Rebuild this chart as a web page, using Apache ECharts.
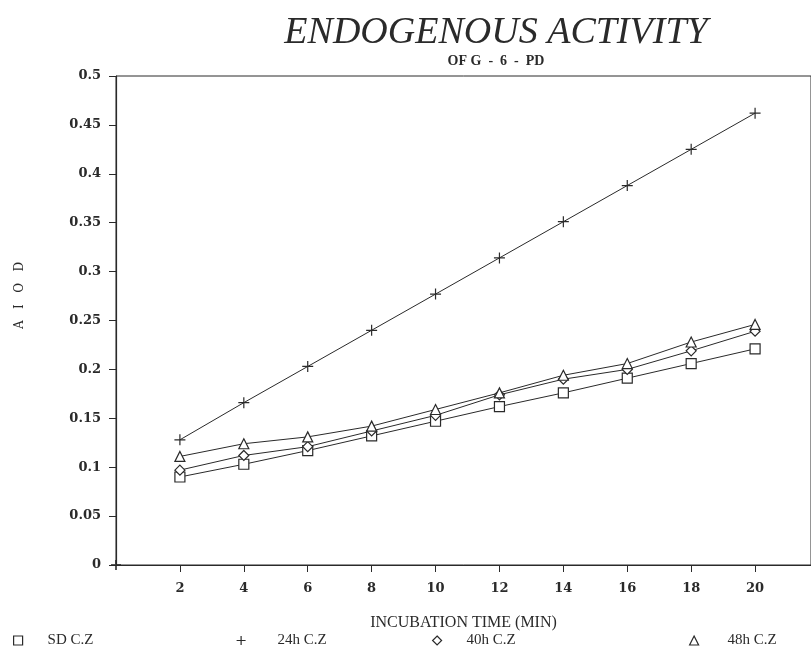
<!DOCTYPE html>
<html>
<head>
<meta charset="utf-8">
<script src="https://cdn.jsdelivr.net/npm/echarts@6/dist/echarts.min.js"></script>
<style>
    html, body { margin: 0; padding: 0; background: #fff; }
    #chart { width: 811px; height: 648px; }
</style>
</head>
<body>
<div id="chart"></div>
<script>
// incubation time (min)
const times = [2, 4, 6, 8, 10, 12, 14, 16, 18, 20];
// AIOD readings
const sdCZ  = [0.090, 0.103, 0.117, 0.132, 0.147, 0.162, 0.176, 0.191, 0.206, 0.221];
const h24CZ = [0.128, 0.166, 0.203, 0.240, 0.277, 0.314, 0.351, 0.388, 0.425, 0.462];
const h40CZ = [0.097, 0.112, 0.121, 0.137, 0.153, 0.174, 0.190, 0.200, 0.219, 0.239];
const h48CZ = [0.111, 0.124, 0.131, 0.142, 0.159, 0.176, 0.194, 0.206, 0.228, 0.246];
const seriesNames = ['SD C.Z', '24h C.Z', '40h C.Z', '48h C.Z'];

const ink = '#2a2a2a';
const plusPath = 'path://M0,5L10,5L5,5L5,0L5,10L5,5Z';

function pairs(vals) {
    return times.map(function (t, i) { return [t, vals[i]]; });
}

let myChart = echarts.init(document.getElementById('chart'));

function lineSeries(name, vals, symbol, size) {
    return {
        name: name,
        type: 'line',
        data: pairs(vals),
        symbol: symbol,
        symbolSize: size,
        showAllSymbol: true,
        lineStyle: { color: ink, width: 1 },
        itemStyle: { color: '#fff', borderColor: ink, borderWidth: 1.2 },
        emphasis: { disabled: true },
        z: 3
    };
}

// 图例 — 四个独立位置
function legendAt(left, name, icon, gap) {
    return {
        left: left,
        top: 628,
        data: [{ name: name, icon: icon }],
        itemWidth: 9,
        itemHeight: 9,
        itemGap: 0,
        selectedMode: false,
        itemStyle: { color: '#fff', borderColor: ink, borderWidth: 1.2 },
        textStyle: {
            color: ink,
            fontFamily: 'Liberation Serif',
            fontSize: 15,
            padding: [0, 0, 0, gap]
        }
    };
}

let option = {
    animation: false,
    backgroundColor: '#fff',
    title: [{
        text: 'ENDOGENOUS ACTIVITY',
        left: 491,
        top: 9,
        textAlign: 'center',
        textStyle: {
            fontFamily: 'Liberation Serif',
            fontStyle: 'italic',
            fontWeight: 'normal',
            fontSize: 38,
            color: ink
        }
    }, {
        text: 'OF G  -  6  -  PD',
        left: 491,
        top: 49,
        textAlign: 'center',
        textStyle: {
            fontFamily: 'Liberation Serif',
            fontWeight: 'bold',
            fontSize: 14,
            color: ink
        }
    }],
    legend: [
        legendAt(8, seriesNames[0], 'rect', 20),
        legendAt(231, seriesNames[1], plusPath, 27),
        legendAt(427, seriesNames[2], 'diamond', 20),
        legendAt(684, seriesNames[3], 'triangle', 24)
    ],
    grid: {
        left: 116,
        top: 76,
        right: 0,
        bottom: 83,
        show: true,
        borderColor: ink,
        borderWidth: 1
    },
    xAxis: {
        type: 'value',
        min: 0,
        max: 21.75,
        interval: 2,
        name: 'INCUBATION TIME (MIN)',
        nameLocation: 'middle',
        nameGap: 50,
        nameTextStyle: {
            fontFamily: 'Liberation Serif',
            fontSize: 16,
            color: ink
        },
        axisLine: { lineStyle: { color: ink, width: 1.2 } },
        axisTick: { length: 7, lineStyle: { color: ink } },
        splitLine: { show: false },
        axisLabel: {
            showMinLabel: false,
            showMaxLabel: false,
            margin: 17,
            fontFamily: 'DejaVu Serif',
            fontWeight: 'bold',
            fontSize: 13,
            color: ink
        }
    },
    yAxis: {
        type: 'value',
        min: 0,
        max: 0.5,
        interval: 0.05,
        name: 'A   I   O   D',
        nameLocation: 'middle',
        nameGap: 90,
        nameRotate: 90,
        nameTextStyle: {
            fontFamily: 'DejaVu Serif',
            fontSize: 12,
            color: ink,
            padding: [0, 0, 0, 50]
        },
        axisLine: { lineStyle: { color: ink, width: 1.2 } },
        axisTick: { length: 7, lineStyle: { color: ink } },
        splitLine: { show: false },
        axisLabel: {
            margin: 15,
            fontFamily: 'DejaVu Serif',
            fontWeight: 'bold',
            fontSize: 13,
            color: ink
        }
    },
    series: [
        lineSeries(seriesNames[0], sdCZ, 'rect', 10),
        lineSeries(seriesNames[1], h24CZ, plusPath, 11),
        lineSeries(seriesNames[2], h40CZ, 'diamond', 10),
        lineSeries(seriesNames[3], h48CZ, 'triangle', 10),
        {
            // 原点处的标记
            name: 'origin',
            type: 'scatter',
            data: [[0, 0]],
            symbol: plusPath,
            symbolSize: 10,
            itemStyle: { color: '#fff', borderColor: ink, borderWidth: 2 },
            silent: true,
            z: 4
        }
    ]
};

myChart.setOption(option);
</script>
</body>
</html>
